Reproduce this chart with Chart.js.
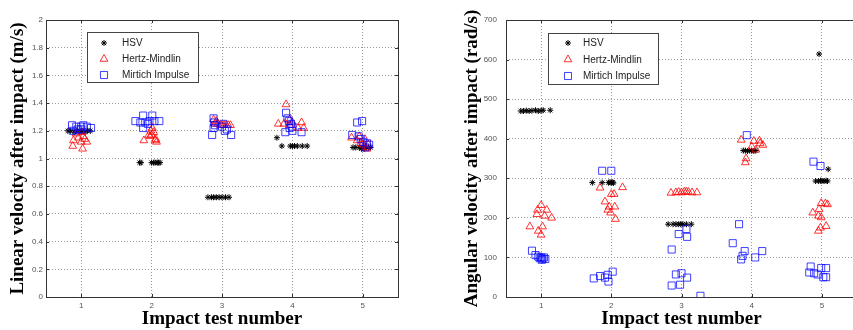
<!DOCTYPE html>
<html>
<head>
<meta charset="utf-8">
<script src="https://cdn.jsdelivr.net/npm/chart.js@4/dist/chart.umd.min.js"></script>
<style>
  html, body { margin: 0; padding: 0; background: #fff; overflow: hidden; width: 853px; height: 330px; }
  .pane { position: absolute; top: 0; }
  #leftPane { left: 0; }
  #rightPane { left: 430px; }
</style>
</head>
<body>
<div class="pane" id="leftPane"><canvas id="linChart" width="420" height="330"></canvas></div>
<div class="pane" id="rightPane"><canvas id="angChart" width="435" height="330"></canvas></div>
<script>
// series names and axis ticks
const seriesNames = ["HSV", "Hertz-Mindlin", "Mirtich Impulse"];
const testTicks = [1, 2, 3, 4, 5];
const linTicks = [0, 0.2, 0.4, 0.6, 0.8, 1, 1.2, 1.4, 1.6, 1.8, 2];
const angTicks = [0, 100, 200, 300, 400, 500, 600, 700];

// linear velocity after impact (m/s), [test number (jittered), value]
const linHsv = [
  [0.81,1.20],[0.85,1.20],[0.90,1.19],[0.94,1.20],[0.98,1.19],[1.01,1.20],[1.05,1.19],[1.09,1.20],[1.13,1.20],
  [1.83,0.97],[1.85,0.97],[2.00,0.97],[2.03,0.97],[2.05,0.97],[2.08,0.97],[2.10,0.97],[2.12,0.97],
  [2.80,0.72],[2.85,0.72],[2.88,0.72],[2.92,0.72],[2.96,0.72],[3.00,0.72],[3.05,0.72],[3.10,0.72],
  [3.78,1.15],[3.85,1.09],[3.97,1.09],[4.00,1.09],[4.03,1.09],[4.07,1.09],[4.14,1.09],[4.21,1.09],
  [4.86,1.08],[4.90,1.08],[4.95,1.08],[4.98,1.07],[5.00,1.08],[5.02,1.07],[5.05,1.08],[5.08,1.08],[5.11,1.08]
];
const linHertz = [
  [0.88,1.09],[0.89,1.13],[0.96,1.15],[0.93,1.18],[1.00,1.12],[1.01,1.19],[1.03,1.16],[1.02,1.07],[1.08,1.12],[1.05,1.14],
  [1.89,1.13],[1.96,1.17],[1.99,1.20],[2.01,1.22],[2.03,1.19],[2.00,1.17],[2.05,1.13],[2.07,1.12],[2.06,1.14],[1.98,1.16],
  [2.88,1.28],[2.90,1.25],[2.94,1.25],[2.98,1.24],[3.00,1.24],[3.03,1.24],[3.06,1.24],[3.09,1.24],[3.12,1.24],[2.92,1.27],
  [3.91,1.39],[3.80,1.25],[3.88,1.25],[3.96,1.28],[3.96,1.24],[4.00,1.26],[4.08,1.22],[4.13,1.26],[4.16,1.22],
  [4.84,1.15],[4.92,1.13],[4.97,1.11],[5.03,1.14],[5.04,1.08],[5.06,1.07],[5.00,1.10],[5.08,1.10],[4.95,1.16]
];
const linMirtich = [
  [0.87,1.24],[0.93,1.23],[1.00,1.23],[1.03,1.24],[1.08,1.23],[1.14,1.22],[0.88,1.20],[1.00,1.21],[0.95,1.21],
  [1.77,1.27],[1.88,1.31],[2.01,1.31],[1.84,1.26],[1.91,1.26],[1.97,1.27],[2.04,1.27],[2.11,1.27],[1.88,1.22],[1.95,1.25],
  [2.86,1.17],[2.88,1.29],[2.89,1.26],[2.90,1.24],[2.88,1.22],[3.00,1.23],[3.04,1.20],[3.07,1.21],[3.13,1.17],[3.02,1.25],
  [3.91,1.33],[3.93,1.29],[3.95,1.27],[3.98,1.25],[4.00,1.23],[3.90,1.19],[4.00,1.20],[4.13,1.19],[3.96,1.22],
  [4.92,1.26],[4.99,1.27],[4.85,1.17],[4.94,1.16],[4.97,1.14],[5.00,1.12],[5.09,1.10],[5.04,1.08],[5.06,1.11]
];

// angular velocity after impact (rad/s)
const angHsv = [
  [0.71,470],[0.75,470],[0.79,471],[0.83,470],[0.87,471],[0.92,472],[0.96,470],[1.00,471],[1.03,472],[1.13,472],
  [1.73,289],[1.87,289],[1.96,289],[1.98,290],[2.00,289],[2.02,290],[2.03,288],
  [2.81,184],[2.88,184],[2.92,184],[2.96,184],[2.99,184],[3.02,184],[3.07,184],[3.14,184],
  [3.88,370],[3.91,370],[3.94,369],[3.97,370],[4.00,370],[4.03,369],[4.06,370],
  [4.96,614],[5.09,323],[4.91,293],[4.95,293],[4.98,294],[5.00,293],[5.03,293],[5.06,294],[5.08,293]
];
const angHertz = [
  [0.84,178],[0.94,209],[0.95,220],[1.00,232],[1.08,220],[1.05,205],[1.15,200],[0.96,167],[1.02,178],[1.00,157],
  [1.84,276],[2.16,277],[1.91,241],[2.00,260],[2.04,260],[1.97,228],[2.05,228],[1.95,220],[1.99,213],[2.06,197],
  [2.85,263],[2.92,264],[2.96,265],[3.00,264],[3.04,266],[3.07,266],[3.10,265],[3.15,264],[3.22,264],
  [3.85,397],[4.03,394],[4.11,395],[4.16,384],[4.12,388],[4.00,380],[4.06,372],[3.92,350],[3.91,340],
  [4.87,213],[4.96,222],[4.99,237],[5.08,234],[5.05,236],[4.95,205],[4.99,201],[4.95,167],[4.98,175],[5.06,179]
];
const angMirtich = [
  [0.87,117],[0.92,106],[0.96,102],[0.98,98],[1.00,100],[1.02,97],[1.04,100],[1.06,96],[1.01,94],
  [1.87,319],[2.00,319],[1.75,47],[1.84,53],[1.91,49],[1.95,56],[1.96,39],[2.02,64],
  [3.07,172],[2.96,159],[3.08,152],[2.86,120],[2.92,57],[3.00,60],[3.08,49],[2.86,29],[2.98,31],[3.27,3],
  [3.93,409],[3.82,184],[3.73,136],[3.90,116],[3.87,104],[3.85,95],[4.05,100],[4.15,116],
  [4.88,342],[4.98,331],[4.84,77],[4.82,62],[4.89,60],[4.94,57],[4.99,73],[5.06,73],[5.02,50],[5.06,50]
];

const toXY = arr => arr.map(p => ({ x: p[0], y: p[1] }));

function makeDatasets(hsv, hertz, mirtich) {
  return [
    { label: seriesNames[0], data: toXY(hsv), pointStyle: "star", pointRadius: 3,
      borderColor: "#000", backgroundColor: "rgba(0,0,0,0)", borderWidth: 1, order: 3 },
    { label: seriesNames[1], data: toXY(hertz), pointStyle: "triangle", pointRadius: 4.5,
      borderColor: "rgba(255,0,0,0.8)", backgroundColor: "rgba(0,0,0,0)", borderWidth: 1, order: 2 },
    { label: seriesNames[2], data: toXY(mirtich), pointStyle: "rect", pointRadius: 5,
      borderColor: "rgba(0,0,255,0.75)", backgroundColor: "rgba(0,0,0,0)", borderWidth: 1, order: 1 }
  ];
}

// box round the axes with small inward ticks, like the original plot
const frame = {
  id: "frame",
  beforeDatasetsDraw(chart) {
    const { ctx, chartArea: a, scales } = chart;
    ctx.save();
    ctx.strokeStyle = "#333";
    ctx.lineWidth = 1;
    ctx.strokeRect(Math.round(a.left) + 0.5, Math.round(a.top) + 0.5,
      Math.round(a.right - a.left), Math.round(a.bottom - a.top));
    ctx.beginPath();
    scales.x.ticks.forEach(t => {
      const px = Math.round(scales.x.getPixelForValue(t.value)) + 0.5;
      ctx.moveTo(px, a.bottom); ctx.lineTo(px, a.bottom - 3);
      ctx.moveTo(px, a.top); ctx.lineTo(px, a.top + 3);
    });
    scales.y.ticks.forEach(t => {
      const py = Math.round(scales.y.getPixelForValue(t.value)) + 0.5;
      ctx.moveTo(a.left, py); ctx.lineTo(a.left + 3, py);
      ctx.moveTo(a.right, py); ctx.lineTo(a.right - 3, py);
    });
    ctx.stroke();
    ctx.restore();
  }
};

// boxed legend inside the axes
const boxLegend = {
  id: "boxLegend",
  afterDraw(chart, args, o) {
    const ctx = chart.ctx;
    ctx.save();
    ctx.fillStyle = "#fff";
    ctx.fillRect(o.x, o.y, o.w, o.h);
    ctx.strokeStyle = "#444";
    ctx.lineWidth = 1;
    ctx.strokeRect(o.x + 0.5, o.y + 0.5, o.w, o.h);
    ctx.font = '10px "Liberation Sans", Arial, sans-serif';
    ctx.textBaseline = "middle";
    chart.data.datasets.forEach((ds, i) => {
      const y = o.y + o.row0 + i * o.rowGap;
      ctx.strokeStyle = ds.borderColor;
      ctx.fillStyle = "rgba(0,0,0,0)";
      ctx.lineWidth = ds.borderWidth;
      Chart.helpers.drawPoint(ctx, { pointStyle: ds.pointStyle, radius: ds.pointRadius,
        borderWidth: ds.borderWidth, rotation: 0 }, o.x + o.markX, y);
      ctx.fillStyle = "#222";
      ctx.fillText(ds.label, o.x + o.textX, y + 0.5);
    });
    ctx.restore();
  }
};

const tickFont = { family: '"Liberation Sans", Arial, sans-serif', size: 8 };
const titleFont = { family: '"Liberation Serif", "Times New Roman", serif', size: 19, weight: "bold", lineHeight: 1.2 };

function makeChart(id, cfg) {
  return new Chart(document.getElementById(id), {
    type: "scatter",
    data: { datasets: makeDatasets(cfg.hsv, cfg.hertz, cfg.mirtich) },
    options: {
      responsive: false,
      animation: false,
      events: [],
      layout: { padding: { top: 20, right: cfg.padRight, left: 0, bottom: 0 } },
      plugins: {
        legend: { display: false },
        tooltip: { enabled: false },
        boxLegend: cfg.legend
      },
      scales: {
        x: {
          type: "linear", min: 0.5, max: 5.5,
          afterBuildTicks: s => { s.ticks = testTicks.map(v => ({ value: v })); },
          afterFit: s => { s.height = 33; },
          grid: { color: "#9a9a9a", drawTicks: false },
          border: { display: false, dash: [1, 2] },
          ticks: { font: tickFont, color: "#555", padding: 4, maxRotation: 0 },
          title: { display: true, text: "Impact test number", font: titleFont, color: "#000", padding: { top: 0, bottom: 0 } }
        },
        y: {
          type: "linear", min: cfg.yTicks[0], max: cfg.yTicks[cfg.yTicks.length - 1],
          afterBuildTicks: s => { s.ticks = cfg.yTicks.map(v => ({ value: v })); },
          afterFit: s => { s.width = cfg.yWidth; },
          grid: { color: "#9a9a9a", drawTicks: false },
          border: { display: false, dash: [1, 2] },
          ticks: { font: tickFont, color: "#555", padding: cfg.tickPad,
            callback: v => String(Math.round(v * 10) / 10) },
          title: { display: true, text: cfg.yTitle, font: titleFont, color: "#000", padding: { top: cfg.titlePad, bottom: 0 } }
        }
      }
    },
    plugins: [frame, boxLegend]
  });
}

makeChart("linChart", {
  hsv: linHsv, hertz: linHertz, mirtich: linMirtich,
  yTicks: linTicks, yWidth: 46, padRight: 22, tickPad: 3, titlePad: 7,
  yTitle: "Linear velocity after impact (m/s)",
  legend: { x: 87, y: 32, w: 111, h: 50, row0: 11, rowGap: 16, markX: 17, textX: 35 }
});

makeChart("angChart", {
  hsv: angHsv, hertz: angHertz, mirtich: angMirtich,
  yTicks: angTicks, yWidth: 76, padRight: 8, tickPad: 9, titlePad: 31,
  yTitle: "Angular velocity after impact (rad/s)",
  legend: { x: 118, y: 33, w: 110, h: 51, row0: 10, rowGap: 16.5, markX: 20, textX: 35 }
});
</script>
</body>
</html>
